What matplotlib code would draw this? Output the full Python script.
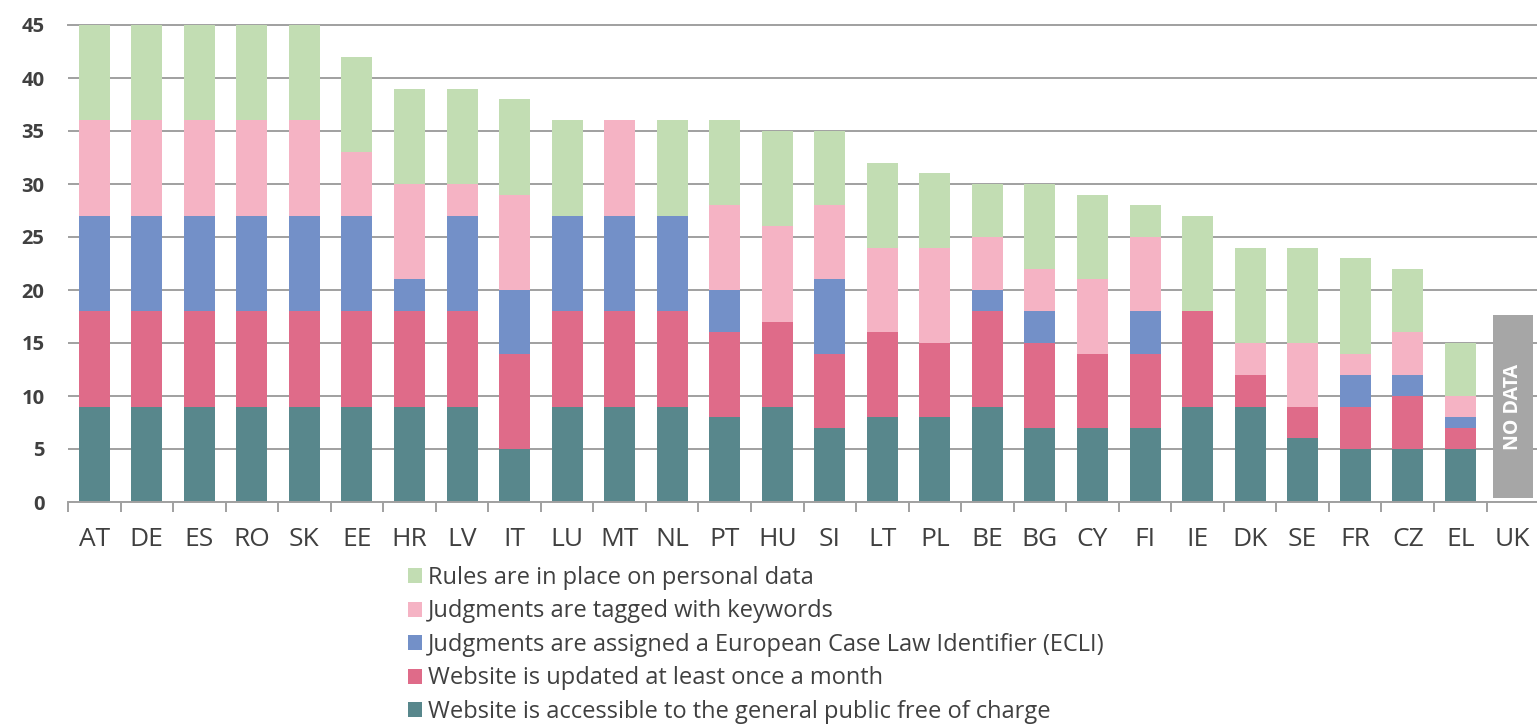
import matplotlib
matplotlib.use("Agg")
import matplotlib.pyplot as plt
from matplotlib.patches import Patch
import numpy as np

countries = ["AT", "DE", "ES", "RO", "SK", "EE", "HR", "LV", "IT", "LU", "MT", "NL", "PT", "HU",
             "SI", "LT", "PL", "BE", "BG", "CY", "FI", "IE", "DK", "SE", "FR", "CZ", "EL", "UK"]

accessible = [9, 9, 9, 9, 9, 9, 9, 9, 5, 9, 9, 9, 8, 9, 7, 8, 8, 9, 7, 7, 7, 9, 9, 6, 5, 5, 5, 0]
updated    = [9, 9, 9, 9, 9, 9, 9, 9, 9, 9, 9, 9, 8, 8, 7, 8, 7, 9, 8, 7, 7, 9, 3, 3, 4, 5, 2, 0]
ecli       = [9, 9, 9, 9, 9, 9, 3, 9, 6, 9, 9, 9, 4, 0, 7, 0, 0, 2, 3, 0, 4, 0, 0, 0, 3, 2, 1, 0]
keywords   = [9, 9, 9, 9, 9, 6, 9, 3, 9, 0, 9, 0, 8, 9, 7, 8, 9, 5, 4, 7, 7, 0, 3, 6, 2, 4, 2, 0]
personal   = [9, 9, 9, 9, 9, 9, 9, 9, 9, 9, 0, 9, 8, 9, 7, 8, 7, 5, 8, 8, 3, 9, 9, 9, 9, 6, 5, 0]

no_data_country = "UK"
no_data_range = (0.4, 17.6)

series_labels = [
    "Website is accessible to the general public free of charge",
    "Website is updated at least once a month",
    "Judgments are assigned a European Case Law Identifier (ECLI)",
    "Judgments are tagged with keywords",
    "Rules are in place on personal data",
]
series_values = [accessible, updated, ecli, keywords, personal]
colors = ["#58878c", "#df6b89", "#7390c8", "#f5b3c4", "#c2ddb3"]

FONT = ["Open Sans", "DejaVu Sans"]
TXT = "#404040"

fig = plt.figure(figsize=(15.37, 7.24), dpi=100)
ax = fig.add_axes([68 / 1537, 1 - 502 / 724, 1 - 68 / 1537, (502 - 25) / 724])

x = np.arange(len(countries))
bottom = np.zeros(len(countries))
for vals, col in zip(series_values, colors):
    v = np.array(vals, dtype=float)
    ax.bar(x, v, width=0.59, bottom=bottom, color=col, zorder=3, linewidth=0)
    bottom += v

# No data box
iuk = countries.index(no_data_country)
ax.bar(iuk, no_data_range[1] - no_data_range[0], bottom=no_data_range[0], width=0.76,
       color="#a6a6a6", zorder=3, linewidth=0)
ax.text(iuk, sum(no_data_range) / 2, "NO DATA", rotation=90, color="white",
        ha="center", va="center", fontsize=14, fontweight="bold", family=FONT, zorder=4)

ax.set_xlim(-0.5, 27.46)
ax.set_ylim(0, 45)
ax.set_yticks(np.arange(0, 46, 5))
ax.yaxis.grid(True, color="#a0a0a0", linewidth=1.4, zorder=0)
ax.set_axisbelow(True)
for s in ["top", "right", "left"]:
    ax.spines[s].set_visible(False)
ax.spines["bottom"].set_color("#a0a0a0")
ax.spines["bottom"].set_linewidth(1.4)
ax.spines["bottom"].set_zorder(5)

ax.set_xticks(x)
ax.set_xticklabels(countries, fontsize=19, color=TXT, family=FONT)
ax.set_xticks(np.arange(-0.5, len(countries) - 0.5, 1), minor=True)
ax.tick_params(axis="x", which="major", length=0, pad=18)
ax.tick_params(axis="x", which="minor", length=7, width=1.4, color="#a0a0a0", direction="out")
ax.tick_params(axis="y", length=0, pad=17, labelsize=14.5, labelcolor=TXT)
for lab in ax.get_yticklabels():
    lab.set_family(FONT)
    lab.set_fontweight("bold")

ax.get_ygridlines()[-1].set_clip_on(False)

handles = [Patch(facecolor=c, edgecolor="none") for c in colors][::-1]
labels = series_labels[::-1]
leg = fig.legend(handles, labels, loc="upper left", bbox_to_anchor=(408 / 1537, 1 - 566 / 724),
                 frameon=False, prop={"family": FONT, "size": 17},
                 handlelength=0.6, handleheight=0.6, handletextpad=0.25, labelspacing=0.4,
                 borderaxespad=0, borderpad=0)
for t in leg.get_texts():
    t.set_color(TXT)

fig.savefig("out.png", dpi=100)
